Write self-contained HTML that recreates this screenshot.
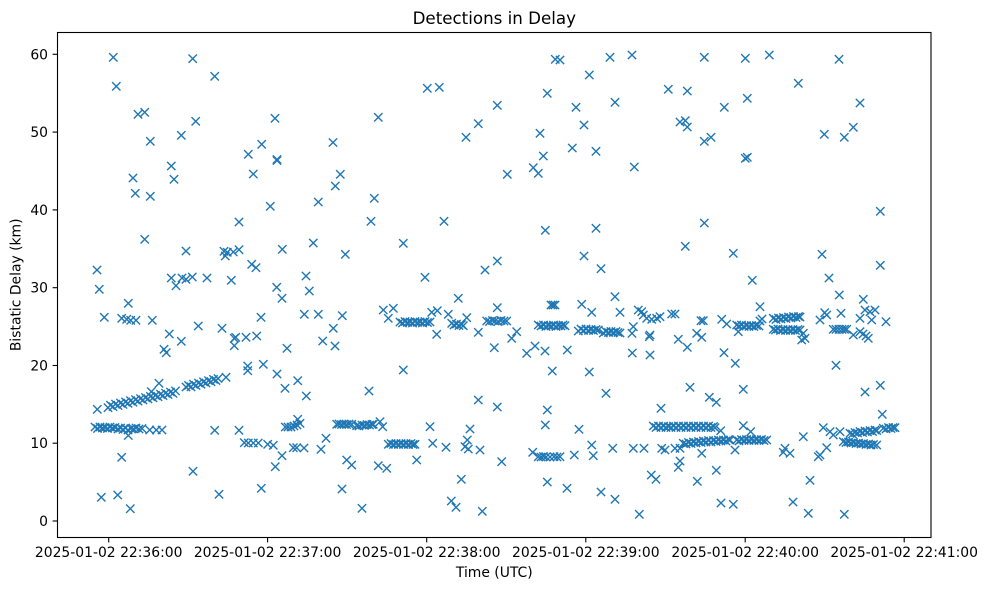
<!DOCTYPE html>
<html><head><meta charset="utf-8"><style>
html,body{margin:0;padding:0;background:#fff;}
svg{display:block;}
text{font-family:"DejaVu Sans","Liberation Sans",sans-serif;fill:#000;}
</style></head><body>
<svg width="986" height="590" viewBox="0 0 986 590" xmlns="http://www.w3.org/2000/svg">
<rect x="0" y="0" width="986" height="590" fill="#fff"/>
<defs><path id="m" d="M-4.17-4.17L4.17 4.17M-4.17 4.17L4.17-4.17" stroke="#1f77b4" stroke-width="1.39" fill="none"/></defs>
<text x="494.3" y="24" font-size="16.7" text-anchor="middle">Detections in Delay</text>
<g>
<!-- left upper -->
<use href="#m" x="113.3" y="57.3"/><use href="#m" x="116.3" y="86.3"/><use href="#m" x="192.7" y="58.7"/><use href="#m" x="214.7" y="76.3"/>
<use href="#m" x="138" y="114.3"/><use href="#m" x="144.7" y="112.3"/><use href="#m" x="195.7" y="121.3"/><use href="#m" x="181.3" y="135.3"/>
<use href="#m" x="150.3" y="141.3"/><use href="#m" x="275" y="118.3"/><use href="#m" x="248.3" y="154.3"/><use href="#m" x="261.7" y="144.3"/>
<use href="#m" x="277" y="159.5"/><use href="#m" x="277" y="160.5"/><use href="#m" x="333" y="142.5"/><use href="#m" x="133" y="178"/>
<use href="#m" x="135.3" y="193.3"/><use href="#m" x="150.3" y="196.3"/><use href="#m" x="171.3" y="166"/><use href="#m" x="174" y="179.3"/>
<use href="#m" x="253.3" y="174"/><use href="#m" x="318.3" y="202"/><use href="#m" x="270.3" y="206.3"/><use href="#m" x="144.7" y="239.3"/>
<use href="#m" x="239" y="222"/><use href="#m" x="186" y="251"/><use href="#m" x="224" y="251.3"/><use href="#m" x="227.3" y="252.3"/>
<use href="#m" x="225.3" y="256"/><use href="#m" x="233.3" y="252"/><use href="#m" x="239" y="249.7"/><use href="#m" x="313.3" y="243"/>
<use href="#m" x="282.3" y="249.3"/><use href="#m" x="97" y="270"/><use href="#m" x="251.7" y="264.3"/><use href="#m" x="256" y="267.7"/>
<use href="#m" x="171.3" y="278"/><use href="#m" x="182" y="278"/><use href="#m" x="186" y="279.3"/><use href="#m" x="192.3" y="277"/>
<use href="#m" x="207" y="278"/><use href="#m" x="231.3" y="280.3"/><use href="#m" x="306" y="276"/><use href="#m" x="99.3" y="289.3"/>
<use href="#m" x="276.7" y="287.3"/><use href="#m" x="309.3" y="291"/><use href="#m" x="176" y="285.7"/>
<!-- left mid -->
<use href="#m" x="104.3" y="317.3"/><use href="#m" x="128.3" y="303.3"/><use href="#m" x="121.7" y="318.3"/><use href="#m" x="126.7" y="319.3"/>
<use href="#m" x="130.7" y="320.3"/><use href="#m" x="136" y="320.3"/><use href="#m" x="152.3" y="320.3"/><use href="#m" x="198.3" y="326"/>
<use href="#m" x="169.3" y="334"/><use href="#m" x="164" y="349.3"/><use href="#m" x="166.3" y="352.7"/><use href="#m" x="181.3" y="341.3"/>
<use href="#m" x="222" y="328.3"/><use href="#m" x="234.3" y="338.3"/><use href="#m" x="235.7" y="337.3"/><use href="#m" x="234.3" y="345.7"/>
<use href="#m" x="246" y="337.3"/><use href="#m" x="256.7" y="336"/><use href="#m" x="261" y="317.3"/><use href="#m" x="282" y="298.3"/>
<use href="#m" x="304.3" y="314.3"/><use href="#m" x="318.3" y="314.3"/><use href="#m" x="322.7" y="341"/><use href="#m" x="287" y="348.3"/>
<use href="#m" x="247.7" y="366"/><use href="#m" x="247.7" y="370.7"/><use href="#m" x="263.3" y="364.3"/><use href="#m" x="277" y="374"/>
<use href="#m" x="285" y="388.3"/><use href="#m" x="297.7" y="380.7"/><use href="#m" x="306.3" y="396"/><use href="#m" x="226" y="377.3"/>
<!-- ascending band 1 -->
<use href="#m" x="97.3" y="409.3"/><use href="#m" x="159" y="383.3"/><use href="#m" x="151.3" y="391.7"/>
<use href="#m" x="108" y="407.7"/><use href="#m" x="110.5" y="405.2"/><use href="#m" x="113" y="406.6"/><use href="#m" x="115.5" y="404.1"/>
<use href="#m" x="118" y="405.5"/><use href="#m" x="120.5" y="403"/><use href="#m" x="123" y="404.4"/><use href="#m" x="125.5" y="401.9"/>
<use href="#m" x="128" y="403.3"/><use href="#m" x="130.5" y="400.7"/><use href="#m" x="133" y="402.2"/><use href="#m" x="135.5" y="399.6"/>
<use href="#m" x="138" y="401.1"/><use href="#m" x="140.5" y="398.6"/><use href="#m" x="143" y="400"/><use href="#m" x="145.5" y="397.5"/>
<use href="#m" x="148" y="398.9"/><use href="#m" x="150.5" y="396.4"/><use href="#m" x="153" y="397.8"/><use href="#m" x="155.5" y="395.3"/>
<use href="#m" x="158" y="396.7"/><use href="#m" x="160.5" y="394.2"/><use href="#m" x="163" y="395.6"/><use href="#m" x="165.5" y="393.1"/>
<use href="#m" x="168" y="394.5"/><use href="#m" x="170.5" y="392"/><use href="#m" x="173" y="393.4"/><use href="#m" x="175.5" y="390.9"/>
<!-- ascending band 2 -->
<use href="#m" x="186" y="387"/><use href="#m" x="188.5" y="385.4"/><use href="#m" x="191" y="386.8"/><use href="#m" x="193.5" y="384.2"/>
<use href="#m" x="196" y="385.5"/><use href="#m" x="198.5" y="383"/><use href="#m" x="201" y="384.2"/><use href="#m" x="203.5" y="381.8"/>
<use href="#m" x="206" y="383"/><use href="#m" x="208.5" y="380.6"/><use href="#m" x="211" y="381.7"/><use href="#m" x="213.5" y="379.4"/>
<use href="#m" x="216" y="380.5"/><use href="#m" x="218" y="378.5"/>
<!-- 12 line left -->
<use href="#m" x="95" y="427"/><use href="#m" x="97.5" y="428.5"/><use href="#m" x="100" y="427"/><use href="#m" x="102.5" y="428"/>
<use href="#m" x="105" y="427.5"/><use href="#m" x="107.5" y="428.5"/><use href="#m" x="110" y="427"/><use href="#m" x="112.5" y="428"/>
<use href="#m" x="115" y="427.5"/><use href="#m" x="118" y="429"/><use href="#m" x="120.5" y="428"/><use href="#m" x="123" y="429.5"/>
<use href="#m" x="125.5" y="428"/><use href="#m" x="128" y="430"/><use href="#m" x="131" y="428.5"/><use href="#m" x="133.5" y="429"/>
<use href="#m" x="136" y="428"/><use href="#m" x="139" y="429"/><use href="#m" x="142" y="428.5"/><use href="#m" x="149.7" y="430"/>
<use href="#m" x="156.3" y="430"/><use href="#m" x="162" y="430"/><use href="#m" x="128.3" y="435.5"/><use href="#m" x="121.7" y="457.3"/>
<!-- left low -->
<use href="#m" x="214.7" y="430.3"/><use href="#m" x="239" y="430.3"/><use href="#m" x="244.3" y="442.7"/><use href="#m" x="248.3" y="443"/>
<use href="#m" x="253.3" y="443"/><use href="#m" x="258.3" y="443"/><use href="#m" x="267.7" y="444.3"/><use href="#m" x="273.3" y="445.3"/>
<use href="#m" x="275.3" y="466.7"/><use href="#m" x="282" y="455.7"/><use href="#m" x="285.3" y="427"/><use href="#m" x="288" y="427"/>
<use href="#m" x="291" y="427"/><use href="#m" x="294" y="426"/><use href="#m" x="297" y="425"/><use href="#m" x="300" y="423.3"/>
<use href="#m" x="297.7" y="419.3"/><use href="#m" x="293.3" y="447.7"/><use href="#m" x="296.7" y="447.7"/><use href="#m" x="304" y="448"/>
<use href="#m" x="321" y="449.3"/><use href="#m" x="326" y="438.3"/><use href="#m" x="193" y="471.3"/><use href="#m" x="261.3" y="488.3"/>
<use href="#m" x="101.3" y="497.3"/><use href="#m" x="117.7" y="495"/><use href="#m" x="130.3" y="508.7"/><use href="#m" x="219" y="494.3"/>
<!-- middle upper -->
<use href="#m" x="340.3" y="174.3"/><use href="#m" x="335.3" y="186"/><use href="#m" x="378.3" y="117.3"/><use href="#m" x="374.3" y="198.3"/>
<use href="#m" x="371" y="221.3"/><use href="#m" x="345.3" y="254.3"/><use href="#m" x="403.3" y="243.3"/><use href="#m" x="425" y="277.3"/>
<use href="#m" x="427.3" y="88.3"/><use href="#m" x="439.3" y="87.3"/><use href="#m" x="444" y="221.3"/><use href="#m" x="466" y="137.3"/>
<use href="#m" x="478.3" y="123.7"/><use href="#m" x="497.3" y="105.3"/><use href="#m" x="507.3" y="174.3"/><use href="#m" x="485" y="270"/>
<use href="#m" x="497.3" y="261"/><use href="#m" x="547.3" y="93.3"/><use href="#m" x="555.3" y="59.3"/><use href="#m" x="560" y="60"/>
<use href="#m" x="540" y="133.3"/><use href="#m" x="543.3" y="156"/><use href="#m" x="533.3" y="167.7"/><use href="#m" x="538.3" y="173.3"/>
<use href="#m" x="545.3" y="230.3"/><use href="#m" x="589.3" y="75"/><use href="#m" x="610" y="57.3"/><use href="#m" x="632" y="55"/>
<use href="#m" x="576" y="107.3"/><use href="#m" x="615" y="102.3"/><use href="#m" x="584" y="125"/><use href="#m" x="572.3" y="148"/>
<use href="#m" x="596" y="151.3"/><use href="#m" x="596" y="228.3"/><use href="#m" x="584" y="256"/><use href="#m" x="601" y="268.7"/>
<!-- middle band -->
<use href="#m" x="342.3" y="315.7"/><use href="#m" x="333.3" y="328.3"/><use href="#m" x="335" y="346"/><use href="#m" x="383.3" y="310"/>
<use href="#m" x="393.3" y="308.3"/><use href="#m" x="388.3" y="318.3"/><use href="#m" x="431.7" y="312.3"/><use href="#m" x="437.3" y="310.7"/>
<use href="#m" x="436.7" y="334.3"/><use href="#m" x="448.3" y="314.3"/><use href="#m" x="458.3" y="298.3"/><use href="#m" x="466.7" y="317.7"/>
<use href="#m" x="478.3" y="332.3"/><use href="#m" x="497.3" y="307.7"/><use href="#m" x="494.3" y="347.7"/><use href="#m" x="516.7" y="331.7"/>
<use href="#m" x="511.7" y="338.3"/><use href="#m" x="526.7" y="353.3"/><use href="#m" x="535" y="346"/><use href="#m" x="545" y="351"/>
<use href="#m" x="551" y="305"/><use href="#m" x="553" y="305"/><use href="#m" x="555" y="305"/><use href="#m" x="567.3" y="350"/>
<use href="#m" x="581.7" y="304.3"/><use href="#m" x="591.7" y="312.3"/><use href="#m" x="615" y="296.7"/><use href="#m" x="620" y="312.3"/>
<use href="#m" x="400" y="322"/><use href="#m" x="402.5" y="323"/><use href="#m" x="405" y="321.5"/><use href="#m" x="407.5" y="322.5"/>
<use href="#m" x="410" y="322"/><use href="#m" x="412.5" y="323"/><use href="#m" x="415" y="321.5"/><use href="#m" x="417.5" y="322.5"/>
<use href="#m" x="420" y="322"/><use href="#m" x="422.5" y="323"/><use href="#m" x="425" y="321.5"/><use href="#m" x="427.5" y="322.5"/>
<use href="#m" x="430" y="322"/>
<use href="#m" x="451.7" y="323.3"/><use href="#m" x="454" y="325"/><use href="#m" x="456.5" y="324"/><use href="#m" x="459" y="325.5"/>
<use href="#m" x="461.5" y="324.5"/><use href="#m" x="463.3" y="325.7"/>
<use href="#m" x="486.7" y="321"/><use href="#m" x="489.5" y="321.5"/><use href="#m" x="492.5" y="320.5"/><use href="#m" x="495" y="321"/>
<use href="#m" x="498" y="321.5"/><use href="#m" x="501" y="320.5"/><use href="#m" x="504" y="321"/><use href="#m" x="506.7" y="321"/>
<use href="#m" x="538.3" y="325"/><use href="#m" x="541" y="326"/><use href="#m" x="543.5" y="325"/><use href="#m" x="546" y="326.5"/>
<use href="#m" x="548.5" y="325.5"/><use href="#m" x="551" y="326"/><use href="#m" x="553.5" y="325"/><use href="#m" x="556" y="326.5"/>
<use href="#m" x="558.5" y="325.5"/><use href="#m" x="561" y="326"/><use href="#m" x="563" y="325"/><use href="#m" x="565" y="325.7"/>
<use href="#m" x="578.3" y="331"/><use href="#m" x="581" y="329"/><use href="#m" x="583.5" y="330.5"/><use href="#m" x="586" y="329"/>
<use href="#m" x="588.5" y="330.5"/><use href="#m" x="591" y="329.5"/><use href="#m" x="593.5" y="330.5"/><use href="#m" x="596" y="329.5"/>
<use href="#m" x="598.3" y="330"/>
<use href="#m" x="603.3" y="333"/><use href="#m" x="606" y="331.5"/><use href="#m" x="608.5" y="332.5"/><use href="#m" x="611" y="331.5"/>
<use href="#m" x="613.5" y="332.5"/><use href="#m" x="616" y="331.5"/><use href="#m" x="618" y="332.5"/><use href="#m" x="620" y="333"/>
<use href="#m" x="403.3" y="370"/><use href="#m" x="369" y="391"/><use href="#m" x="552.3" y="371"/><use href="#m" x="589.3" y="372"/>
<use href="#m" x="606" y="393.3"/><use href="#m" x="478.3" y="400"/><use href="#m" x="497.3" y="407"/><use href="#m" x="547.3" y="410"/>
<use href="#m" x="545.3" y="425"/><use href="#m" x="579" y="429.3"/>
<!-- middle low -->
<use href="#m" x="336.7" y="424.3"/><use href="#m" x="339" y="424"/><use href="#m" x="341.5" y="424.5"/><use href="#m" x="344" y="424"/>
<use href="#m" x="346.5" y="424.5"/><use href="#m" x="349" y="424"/><use href="#m" x="351.7" y="424.3"/>
<use href="#m" x="356.7" y="425.7"/><use href="#m" x="359" y="426"/><use href="#m" x="362" y="425"/><use href="#m" x="364.5" y="425.5"/>
<use href="#m" x="367" y="424.5"/><use href="#m" x="369.5" y="425"/><use href="#m" x="372" y="424.5"/><use href="#m" x="373.3" y="424.3"/>
<use href="#m" x="380" y="421.7"/><use href="#m" x="382.7" y="426.7"/><use href="#m" x="430" y="426.7"/><use href="#m" x="470" y="429"/>
<use href="#m" x="388.3" y="444.3"/><use href="#m" x="391" y="443.5"/><use href="#m" x="393.5" y="444.5"/><use href="#m" x="396" y="443.5"/>
<use href="#m" x="398.5" y="444.5"/><use href="#m" x="401" y="443.5"/><use href="#m" x="403.5" y="444.5"/><use href="#m" x="406" y="443.5"/>
<use href="#m" x="408.5" y="444.5"/><use href="#m" x="411" y="443.5"/><use href="#m" x="413" y="444.5"/><use href="#m" x="415" y="444.3"/>
<use href="#m" x="432.7" y="443.3"/><use href="#m" x="446" y="447.3"/><use href="#m" x="467.3" y="440"/><use href="#m" x="465" y="446.7"/>
<use href="#m" x="468.3" y="449"/><use href="#m" x="480" y="450"/><use href="#m" x="532.7" y="452.3"/>
<use href="#m" x="538.3" y="456.7"/><use href="#m" x="541" y="457"/><use href="#m" x="543.5" y="456.5"/><use href="#m" x="546" y="457"/>
<use href="#m" x="550" y="457"/><use href="#m" x="554" y="456.7"/><use href="#m" x="557" y="457"/><use href="#m" x="560" y="456.7"/>
<use href="#m" x="574.3" y="455"/><use href="#m" x="591.7" y="445"/><use href="#m" x="593.3" y="455.7"/><use href="#m" x="612.7" y="448.3"/>
<use href="#m" x="346.7" y="460"/><use href="#m" x="351.7" y="465"/><use href="#m" x="378.3" y="465.7"/><use href="#m" x="386.7" y="468.3"/>
<use href="#m" x="416.7" y="460"/><use href="#m" x="501.7" y="461.7"/><use href="#m" x="342" y="489"/><use href="#m" x="362" y="508.3"/>
<use href="#m" x="461.3" y="479.3"/><use href="#m" x="451.3" y="501"/><use href="#m" x="456" y="507.3"/><use href="#m" x="482.3" y="511.3"/>
<use href="#m" x="547.3" y="482"/><use href="#m" x="567" y="488.3"/><use href="#m" x="601" y="492"/><use href="#m" x="615" y="499.3"/>
<!-- right upper -->
<use href="#m" x="704.3" y="57.3"/><use href="#m" x="745.3" y="58.3"/><use href="#m" x="769.3" y="55"/><use href="#m" x="839" y="59.3"/>
<use href="#m" x="668.3" y="89.3"/><use href="#m" x="687.3" y="91"/><use href="#m" x="798.3" y="83.3"/><use href="#m" x="747.3" y="98.3"/>
<use href="#m" x="724.3" y="107.3"/><use href="#m" x="860" y="103"/><use href="#m" x="680" y="122"/><use href="#m" x="685.3" y="120.7"/>
<use href="#m" x="687.3" y="127"/><use href="#m" x="704.3" y="141.3"/><use href="#m" x="711" y="137.3"/><use href="#m" x="853.3" y="127.3"/>
<use href="#m" x="824.3" y="134.3"/><use href="#m" x="844.3" y="137.3"/><use href="#m" x="745.3" y="158.3"/><use href="#m" x="747.3" y="157.3"/>
<use href="#m" x="634.3" y="167"/><use href="#m" x="880.3" y="211.3"/><use href="#m" x="704.3" y="223"/><use href="#m" x="685.3" y="246.3"/>
<use href="#m" x="733.3" y="253.3"/><use href="#m" x="822" y="254.3"/><use href="#m" x="880.3" y="265.3"/><use href="#m" x="752.3" y="280.3"/>
<use href="#m" x="829" y="278"/>
<!-- right band -->
<use href="#m" x="839.3" y="295"/><use href="#m" x="863.3" y="299.3"/><use href="#m" x="760" y="306.7"/><use href="#m" x="638.3" y="310"/>
<use href="#m" x="641.7" y="311.7"/><use href="#m" x="643.3" y="315"/><use href="#m" x="646.7" y="318.3"/><use href="#m" x="651.7" y="319.3"/>
<use href="#m" x="656.7" y="318.3"/><use href="#m" x="660" y="316.7"/><use href="#m" x="671.7" y="314"/><use href="#m" x="675" y="314"/>
<use href="#m" x="703.3" y="320.7"/><use href="#m" x="701" y="320.7"/><use href="#m" x="721.7" y="319.3"/><use href="#m" x="726.7" y="324"/>
<use href="#m" x="738.3" y="331.7"/><use href="#m" x="803.3" y="333.3"/><use href="#m" x="805" y="338.3"/><use href="#m" x="801.7" y="340"/>
<use href="#m" x="820" y="320"/><use href="#m" x="826.7" y="315"/><use href="#m" x="824.7" y="312.7"/><use href="#m" x="841" y="313.3"/>
<use href="#m" x="853.3" y="335"/><use href="#m" x="860" y="331.7"/><use href="#m" x="863" y="334"/><use href="#m" x="866" y="336"/>
<use href="#m" x="868.3" y="338.3"/><use href="#m" x="860" y="318.3"/><use href="#m" x="865" y="310"/><use href="#m" x="870" y="311.7"/>
<use href="#m" x="875" y="310"/><use href="#m" x="871.7" y="320"/><use href="#m" x="886" y="321.7"/><use href="#m" x="633.3" y="326.7"/>
<use href="#m" x="632" y="333.3"/><use href="#m" x="650" y="335"/><use href="#m" x="649.3" y="336.7"/><use href="#m" x="678.3" y="339.3"/>
<use href="#m" x="687.3" y="347.3"/><use href="#m" x="696.7" y="333.3"/><use href="#m" x="701.7" y="337.3"/><use href="#m" x="632.3" y="353"/>
<use href="#m" x="650" y="355"/><use href="#m" x="724" y="352.7"/><use href="#m" x="735.3" y="363.3"/><use href="#m" x="836" y="365.3"/>
<use href="#m" x="690" y="387.3"/><use href="#m" x="709.3" y="397.3"/><use href="#m" x="716.3" y="402.3"/><use href="#m" x="743.3" y="389.3"/>
<use href="#m" x="661" y="408.3"/><use href="#m" x="865" y="392"/><use href="#m" x="880.3" y="385.3"/><use href="#m" x="882.3" y="414.3"/>
<use href="#m" x="736.7" y="325"/><use href="#m" x="739" y="326"/><use href="#m" x="741.5" y="325"/><use href="#m" x="744" y="326.5"/>
<use href="#m" x="746.5" y="325.5"/><use href="#m" x="749" y="326.5"/><use href="#m" x="751.5" y="325.5"/><use href="#m" x="754" y="326.5"/>
<use href="#m" x="756.5" y="325.5"/><use href="#m" x="759" y="326"/><use href="#m" x="760" y="321"/><use href="#m" x="762" y="319"/>
<use href="#m" x="773.3" y="318.3"/><use href="#m" x="776" y="319.5"/><use href="#m" x="778.5" y="318"/><use href="#m" x="781" y="319"/>
<use href="#m" x="783.5" y="317.5"/><use href="#m" x="786" y="318.5"/><use href="#m" x="788.5" y="317"/><use href="#m" x="791" y="318"/>
<use href="#m" x="793.5" y="316.5"/><use href="#m" x="796" y="317.5"/><use href="#m" x="798.5" y="316.5"/><use href="#m" x="800" y="317"/>
<use href="#m" x="773.3" y="329.3"/><use href="#m" x="775.5" y="330"/><use href="#m" x="778" y="329"/><use href="#m" x="780.5" y="330.5"/>
<use href="#m" x="783" y="329.5"/><use href="#m" x="785.5" y="330.5"/><use href="#m" x="788" y="329.5"/><use href="#m" x="790.5" y="330.5"/>
<use href="#m" x="793" y="329.5"/><use href="#m" x="795.5" y="330.5"/><use href="#m" x="798" y="329.5"/><use href="#m" x="800" y="330"/>
<use href="#m" x="833.3" y="329.3"/><use href="#m" x="836" y="329.3"/><use href="#m" x="839" y="329.3"/><use href="#m" x="842" y="329.3"/>
<use href="#m" x="844.5" y="329.3"/><use href="#m" x="846.7" y="329.3"/>
<!-- right low -->
<use href="#m" x="653.3" y="426"/><use href="#m" x="656" y="427.5"/><use href="#m" x="658.5" y="426"/><use href="#m" x="661" y="427.5"/>
<use href="#m" x="663.5" y="426"/><use href="#m" x="666" y="427.5"/><use href="#m" x="668.5" y="426.5"/><use href="#m" x="671" y="427.5"/>
<use href="#m" x="673.5" y="426"/><use href="#m" x="676" y="427.5"/><use href="#m" x="678.5" y="426"/><use href="#m" x="681" y="427.5"/>
<use href="#m" x="683.5" y="426"/><use href="#m" x="686" y="427.5"/><use href="#m" x="688.5" y="426"/><use href="#m" x="691" y="427.5"/>
<use href="#m" x="693.5" y="426"/><use href="#m" x="696" y="427.5"/><use href="#m" x="698.5" y="426"/><use href="#m" x="701" y="427.5"/>
<use href="#m" x="703.5" y="426"/><use href="#m" x="706" y="427.5"/><use href="#m" x="708.5" y="426"/><use href="#m" x="711" y="427.5"/>
<use href="#m" x="713.5" y="426.5"/><use href="#m" x="715" y="427.7"/>
<use href="#m" x="720.7" y="430.7"/><use href="#m" x="743.3" y="425.7"/><use href="#m" x="750.7" y="431.7"/><use href="#m" x="633.3" y="448.3"/>
<use href="#m" x="644" y="448.3"/><use href="#m" x="661.7" y="448.3"/><use href="#m" x="665" y="450"/><use href="#m" x="675" y="448.3"/>
<use href="#m" x="680" y="448.3"/><use href="#m" x="701.7" y="453.3"/><use href="#m" x="735" y="450"/>
<use href="#m" x="683.3" y="443.3"/><use href="#m" x="686" y="444"/><use href="#m" x="688.5" y="442.5"/><use href="#m" x="691" y="443.5"/>
<use href="#m" x="693.5" y="442"/><use href="#m" x="696" y="443"/><use href="#m" x="698.5" y="441.5"/><use href="#m" x="701" y="442.5"/>
<use href="#m" x="703.5" y="441"/><use href="#m" x="706" y="442"/><use href="#m" x="708.5" y="440.5"/><use href="#m" x="711" y="442"/>
<use href="#m" x="713.5" y="440.5"/><use href="#m" x="716" y="441.5"/><use href="#m" x="718.5" y="440"/><use href="#m" x="721" y="441"/>
<use href="#m" x="723.5" y="440"/><use href="#m" x="726" y="441"/><use href="#m" x="728.5" y="439.5"/><use href="#m" x="730" y="440"/>
<use href="#m" x="736.7" y="440"/><use href="#m" x="739" y="441"/><use href="#m" x="741.5" y="439.5"/><use href="#m" x="744" y="440.5"/>
<use href="#m" x="746.5" y="439.5"/><use href="#m" x="749" y="440.5"/><use href="#m" x="751.5" y="439.5"/><use href="#m" x="754" y="440.5"/>
<use href="#m" x="756.5" y="439.5"/><use href="#m" x="759" y="440.5"/><use href="#m" x="761.5" y="439.5"/><use href="#m" x="764" y="440.5"/>
<use href="#m" x="766.7" y="440"/>
<use href="#m" x="680" y="461"/><use href="#m" x="678.3" y="467.3"/><use href="#m" x="785" y="448.3"/><use href="#m" x="790" y="453.3"/>
<use href="#m" x="783.3" y="452.3"/><use href="#m" x="803.3" y="436.7"/><use href="#m" x="818.3" y="456.7"/><use href="#m" x="820" y="455"/>
<use href="#m" x="826.7" y="447.7"/><use href="#m" x="823.3" y="427.7"/><use href="#m" x="830" y="431.7"/><use href="#m" x="833.3" y="435"/>
<use href="#m" x="840" y="431.7"/>
<use href="#m" x="850" y="433.3"/><use href="#m" x="852.5" y="434"/><use href="#m" x="855" y="432.5"/><use href="#m" x="857.5" y="433"/>
<use href="#m" x="860" y="431.5"/><use href="#m" x="862.5" y="432.5"/><use href="#m" x="865" y="431"/><use href="#m" x="867.5" y="432"/>
<use href="#m" x="870" y="430.5"/><use href="#m" x="872.5" y="431.5"/><use href="#m" x="875" y="430"/><use href="#m" x="876.7" y="430.5"/>
<use href="#m" x="883.3" y="428.3"/><use href="#m" x="886" y="429"/><use href="#m" x="888.5" y="427.5"/><use href="#m" x="891" y="428.5"/>
<use href="#m" x="893" y="427.5"/><use href="#m" x="895" y="427.7"/>
<use href="#m" x="843.3" y="441.7"/><use href="#m" x="846" y="442.5"/><use href="#m" x="848.5" y="442"/><use href="#m" x="851" y="443"/>
<use href="#m" x="853.5" y="442.5"/><use href="#m" x="856" y="443.5"/><use href="#m" x="858.5" y="443"/><use href="#m" x="861" y="444"/>
<use href="#m" x="863.5" y="443.5"/><use href="#m" x="866" y="444.5"/><use href="#m" x="868.5" y="444"/><use href="#m" x="871" y="445"/>
<use href="#m" x="873.5" y="444.5"/><use href="#m" x="876.7" y="445"/>
<use href="#m" x="651.3" y="475"/><use href="#m" x="656" y="479.3"/><use href="#m" x="697.3" y="481.3"/><use href="#m" x="716.3" y="470.3"/>
<use href="#m" x="810" y="480.3"/><use href="#m" x="639.3" y="514.3"/><use href="#m" x="721" y="503"/><use href="#m" x="733.3" y="504.3"/>
<use href="#m" x="793" y="502"/><use href="#m" x="808.3" y="513.3"/><use href="#m" x="844.3" y="514.3"/>
</g>
<!-- axes frame -->
<rect x="57.5" y="32.5" width="873.5" height="505" fill="none" stroke="#000" stroke-width="1.1"/>
<!-- y ticks -->
<g stroke="#000" stroke-width="1.1">
<line x1="52.6" y1="521" x2="57.5" y2="521"/><line x1="52.6" y1="443.2" x2="57.5" y2="443.2"/>
<line x1="52.6" y1="365.5" x2="57.5" y2="365.5"/><line x1="52.6" y1="287.7" x2="57.5" y2="287.7"/>
<line x1="52.6" y1="209.9" x2="57.5" y2="209.9"/><line x1="52.6" y1="132.1" x2="57.5" y2="132.1"/>
<line x1="52.6" y1="54.3" x2="57.5" y2="54.3"/>
<line x1="108.7" y1="537.5" x2="108.7" y2="542.4"/><line x1="267.6" y1="537.5" x2="267.6" y2="542.4"/>
<line x1="426.7" y1="537.5" x2="426.7" y2="542.4"/><line x1="585.8" y1="537.5" x2="585.8" y2="542.4"/>
<line x1="745.2" y1="537.5" x2="745.2" y2="542.4"/><line x1="904.2" y1="537.5" x2="904.2" y2="542.4"/>
</g>
<g font-size="13.9" text-anchor="end">
<text x="48" y="526">0</text><text x="48" y="448.2">10</text><text x="48" y="370.5">20</text>
<text x="48" y="292.7">30</text><text x="48" y="214.9">40</text><text x="48" y="137.1">50</text><text x="48" y="59.3">60</text>
</g>
<g font-size="13.9" text-anchor="middle">
<text x="108.7" y="557">2025-01-02 22:36:00</text><text x="267.6" y="557">2025-01-02 22:37:00</text>
<text x="426.7" y="557">2025-01-02 22:38:00</text><text x="585.8" y="557">2025-01-02 22:39:00</text>
<text x="745.2" y="557">2025-01-02 22:40:00</text><text x="904.2" y="557">2025-01-02 22:41:00</text>
<text x="494.3" y="577">Time (UTC)</text>
<text transform="translate(20.5,284.8) rotate(-90)" x="0" y="0">Bistatic Delay (km)</text>
</g>
</svg>
</body></html>
